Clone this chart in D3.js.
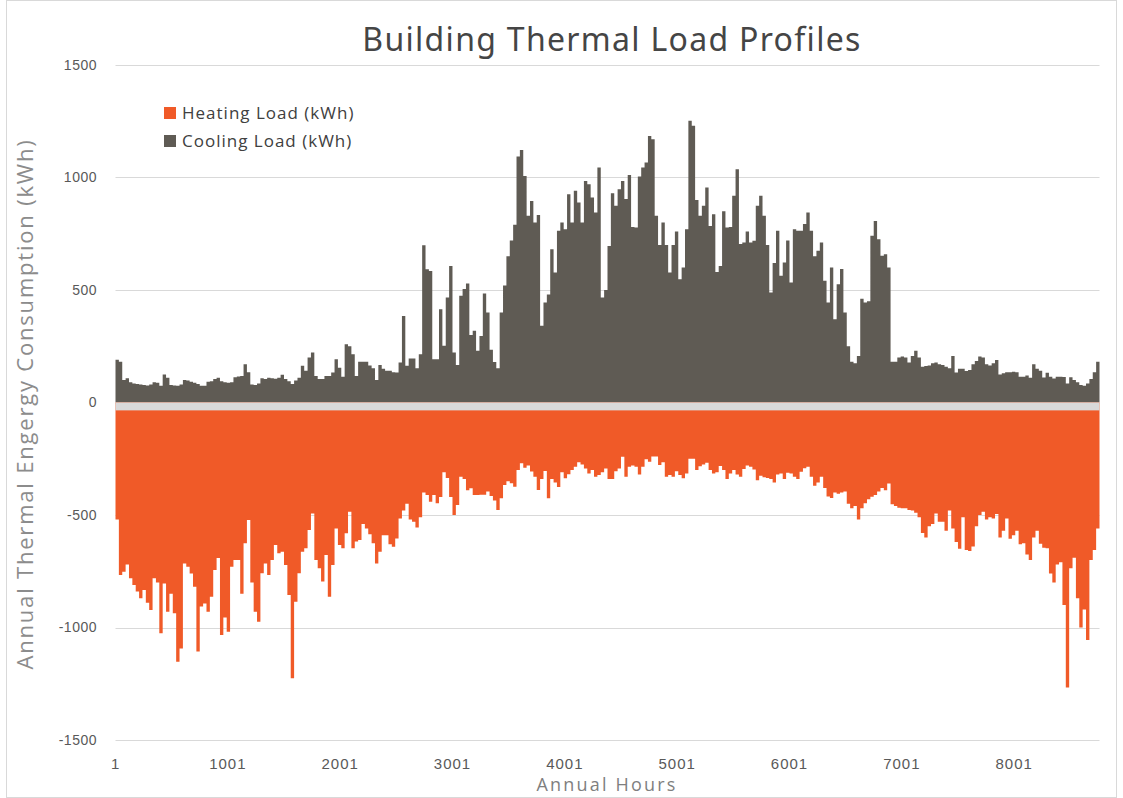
<!DOCTYPE html>
<html><head><meta charset="utf-8">
<script src="https://cdn.jsdelivr.net/npm/d3@7"></script>
<style>body{margin:0;background:#fff} svg{display:block}</style>
</head><body><svg id="c" width="1123" height="798"></svg>
<script>
// ---- data (each value = one 30-hour block) ----
const binHours = 30;
const coolingLoad = [
190,181,100,108,90,85,82,80,78,76,
80,90,88,75,125,110,78,76,75,80,
100,98,92,88,82,75,75,92,95,104,
110,95,90,88,90,112,116,118,170,135,
80,78,85,108,105,110,108,106,110,123,
104,95,82,98,110,163,141,200,222,118,
104,104,118,118,133,192,155,115,259,250,
215,118,181,
181,181,165,152,100,167,150,
141,141,135,133,178,384,163,196,196,152,
215,699,592,585,192,192,415,252,467,607,
222,167,474,504,529,300,319,230,296,485,
400,235,180,152,400,520,650,720,790,1093,
1122,1007,830,896,800,833,341,444,480,681,
578,763,800,770,926,800,941,889,800,985,
970,911,844,1044,467,500,696,
930,874,948,
985,904,1011,780,778,1004,1044,1067,1185,1170,
830,700,800,700,578,700,760,548,600,770,
1252,1230,900,830,874,956,785,837,580,607,
850,778,780,919,1037,704,711,760,711,719,
874,919,830,700,489,620,763,563,622,720,
533,770,763,763,793,844,763,650,674,711,
541,444,600,370,526,593,400,250,181,174,
207,
461,444,450,741,807,726,652,659,600,
181,181,200,205,200,178,207,230,200,159,
162,165,174,178,170,167,159,152,207,133,
150,150,140,145,170,185,205,200,170,165,
175,189,124,130,135,135,137,134,115,115,
120,110,170,150,141,111,132,115,107,115,
115,113,85,112,100,90,78,74,85,105,
135,181
];
const heatingLoad = [
-520,-767,-752,-720,-781,-811,-840,-870,-833,-890,
-922,-781,-800,-1026,-804,-930,-850,-937,-1152,-1093,
-715,-730,-760,-819,-1107,-907,-893,-930,-863,-744,
-691,-1033,-955,-1019,-730,-700,-700,-850,-626,-522,
-800,-930,-974,-759,-715,-767,-700,-633,-670,-663,
-722,-856,-1226,-885,-759,-663,-648,-567,-493,-700,
-737,-796,-678,-863,-722,-560,-633,-648,-581,-485,
-648,-618,-611,
-540,-560,-585,-626,-715,-663,-590,
-590,-630,-641,-604,-515,-480,-450,-520,-530,-555,
-510,-400,-411,-441,-411,-448,-420,-310,-335,-420,
-500,-456,-330,-340,-390,-381,-411,-411,-410,-410,
-395,-415,-435,-478,-426,-367,-350,-359,-374,-300,
-270,-290,-280,-307,-330,-389,-340,-304,-426,-340,
-355,-375,-310,-337,-319,-300,-285,-265,-275,-293,
-315,-300,-330,-322,-310,-293,-340,
-340,-305,-293,
-241,-330,-285,-280,-285,-320,-285,-252,-263,-240,
-240,-278,-265,-330,-322,-330,-306,-322,-337,-315,
-250,-250,-300,-283,-275,-268,-300,-315,-310,-282,
-300,-340,-315,-300,-320,-330,-295,-280,-285,-298,
-345,-325,-332,-335,-340,-355,-320,-315,-340,-312,
-315,-330,-340,-308,-292,-285,-330,-370,-355,-330,
-380,-418,-424,-400,-405,-400,-395,-450,-470,-460,
-520,
-470,-448,-430,-419,-411,-395,-380,-390,-360,
-452,-460,-468,-470,-470,-478,-480,-490,-510,-580,
-600,-550,-540,-493,-530,-530,-570,-480,-560,-620,
-650,-510,-655,-660,-640,-550,-500,-485,-520,-510,
-515,-495,-600,-570,-515,-606,-590,-570,-630,-626,
-675,-700,-600,-570,-628,-645,-648,-760,-800,-720,
-710,-900,-1267,-737,-690,-870,-1000,-920,-1055,-700,
-656,-560
];
const totalHours = 8760;
const yTicks = [-1500,-1000,-500,0,500,1000,1500];
const xTickHours = [1,1001,2001,3001,4001,5001,6001,7001,8001];
const xTickLabels = ["1","1001","2001","3001","4001","5001","6001","7001","8001"];
const seriesNames = ["Heating Load (kWh)","Cooling Load (kWh)"];
const axisBandValue = -35;

// ---- drawing ----
const colors = {heat:"#F05A28", cool:"#5F5B54"};
const svg = d3.select("#c");
const W = 1123, H = 798;
const x = d3.scaleLinear().domain([0.5, totalHours + 0.5]).range([115.5, 1099.5]);
const y = d3.scaleLinear().domain([-1500, 1500]).range([740, 65]);

svg.append("rect").attr("x",6.5).attr("y",0.5).attr("width",W-13).attr("height",H-1)
  .attr("fill","#fff").attr("stroke","#d9d9d9");

// gridlines
svg.append("g").selectAll("line").data(yTicks).join("line")
  .attr("x1", x.range()[0]).attr("x2", x.range()[1])
  .attr("y1", d => Math.round(y(d)) + 0.5).attr("y2", d => Math.round(y(d)) + 0.5)
  .attr("stroke", "#d9d9d9").attr("stroke-width", 1);

function toPts(arr){
  const pts = arr.map((v,i) => ({h: i*binHours + 0.5, v}));
  pts.push({h: totalHours + 0.5, v: arr[arr.length-1]});
  return pts;
}
const area = d3.area().curve(d3.curveStepAfter)
  .x(d => x(d.h)).y0(y(0)).y1(d => y(d.v));

svg.append("path").datum(toPts(coolingLoad)).attr("d", area).attr("fill", colors.cool);
svg.append("path").datum(toPts(heatingLoad)).attr("d", area).attr("fill", colors.heat);

// axis band at zero
svg.append("rect").attr("x", x.range()[0]).attr("width", x.range()[1]-x.range()[0])
  .attr("y", y(0)).attr("height", y(axisBandValue) - y(0)).attr("fill", "#d9d9d9");

// y tick labels
svg.append("g").selectAll("text").data(yTicks).join("text")
  .attr("x", 97).attr("y", d => y(d)).attr("dy","0.35em")
  .attr("text-anchor","end")
  .style("font-family","'Liberation Sans', Arial, sans-serif").style("font-size","14px")
  .style("letter-spacing","0.5px")
  .attr("fill","#595959").text(d => d);

// x tick labels
svg.append("g").selectAll("text").data(xTickHours).join("text")
  .attr("x", d => x(d)).attr("y", 764).attr("dy","0.35em")
  .attr("text-anchor","middle")
  .style("font-family","'Liberation Sans', Arial, sans-serif").style("font-size","15px")
  .style("letter-spacing","1px")
  .attr("fill","#595959").text((d,i) => xTickLabels[i]);

// axis titles
svg.append("text").attr("x", 607).attr("y", 785).attr("dy","0.35em").attr("text-anchor","middle")
  .style("font-family","'Open Sans', sans-serif").style("font-size","18px")
  .style("letter-spacing","2.2px")
  .attr("fill","#7f7f7f").text("Annual Hours");
svg.append("text").attr("transform","translate(25,404) rotate(-90)").attr("dy","0.35em")
  .attr("text-anchor","middle")
  .style("font-family","'Open Sans', sans-serif").style("font-size","22px")
  .style("letter-spacing","1.8px")
  .attr("fill","#8c8c8c").text("Annual Thermal Engergy Consumption (kWh)");

// title
svg.append("text").attr("x", 612).attr("y", 40).attr("dy","0.35em").attr("text-anchor","middle")
  .style("font-family","'Noto Sans', sans-serif").style("font-size","32px")
  .style("letter-spacing","1.3px")
  .attr("fill","#454545").text("Building Thermal Load Profiles");

// legend
const leg = svg.append("g").selectAll("g").data(seriesNames).join("g")
  .attr("transform", (d,i) => `translate(164,${113 + i*28})`);
leg.append("rect").attr("x",0).attr("y",-6).attr("width",12).attr("height",12)
  .attr("fill", (d,i) => i===0 ? colors.heat : colors.cool);
leg.append("text").attr("x",18).attr("dy","0.35em")
  .style("font-family","'Open Sans', sans-serif").style("font-size","17px")
  .style("letter-spacing","1px")
  .attr("fill","#404040").text(d => d);
</script></body></html>
